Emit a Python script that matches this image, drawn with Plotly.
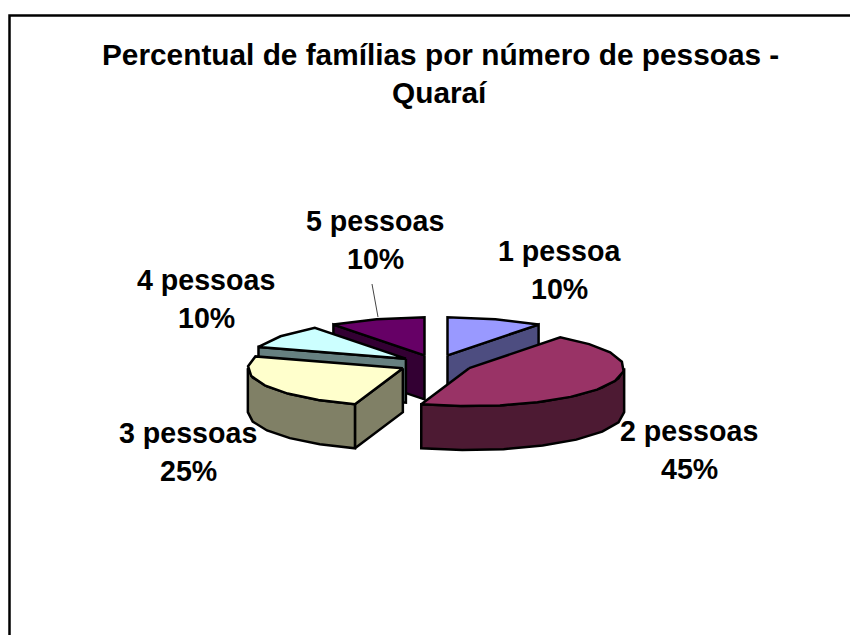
import numpy as np
import plotly.graph_objects as go

categories = ["1 pessoa", "2 pessoas", "3 pessoas", "4 pessoas", "5 pessoas"]
values = [10, 45, 25, 10, 10]
top_colors = ["#9999FF", "#993366", "#FFFFCC", "#CCFFFF", "#660066"]
side_colors = ["#4D4D80", "#4D1A33", "#808066", "#668080", "#330033"]

title_lines = ["Percentual de famílias por número de pessoas -", "Quaraí"]
title_pos = [(440, 54), (440, 92)]
label_pos = [(559, 251), (689, 431), (188, 433), (206, 280), (375, 221)]
LINE_GAP = 38

# pie geometry in page pixels
CX, CY = 436, 364
RX, RY = 155, 38
DEPTH = 44
EXPLODE = 0.24
FONT = "Liberation Sans"

fig = go.Figure()


def add_poly(xs, ys, color):
    fig.add_trace(go.Scatter(
        x=xs, y=ys, mode="lines", fill="toself", fillcolor=color,
        line=dict(color="black", width=2.5), hoverinfo="skip", showlegend=False
    ))


def rim(x0, y0, a0, a1):
    n = max(2, int(abs(a1 - a0) / 14) + 1)
    t = np.radians(np.linspace(a0, a1, n))
    return x0 + RX * np.sin(t), y0 - RY * np.cos(t)


# angles run clockwise from 12 o'clock
edges = np.cumsum([0] + values) / sum(values) * 360
slices = []
for i in range(len(values)):
    a0, a1 = edges[i], edges[i + 1]
    mid = np.radians((a0 + a1) / 2)
    slices.append((i, a0, a1, CX + EXPLODE * RX * np.sin(mid), CY - EXPLODE * RY * np.cos(mid)))

for i, a0, a1, x0, y0 in sorted(slices, key=lambda s: s[4]):
    # radial faces turned towards the viewer
    for a, seen in ((a0, np.sin(np.radians(a0)) < -1e-6), (a1, np.sin(np.radians(a1)) > 1e-6)):
        if seen:
            px, py = rim(x0, y0, a, a)
            px, py = px[0], py[0]
            add_poly([x0, px, px, x0, x0], [y0, py, py + DEPTH, y0 + DEPTH, y0], side_colors[i])
    # outer wall, front half only
    w0, w1 = max(a0, 90), min(a1, 270)
    if w1 > w0:
        rx, ry = rim(x0, y0, w0, w1)
        add_poly(np.r_[rx, rx[::-1], rx[0]], np.r_[ry, ry[::-1] + DEPTH, ry[0]], side_colors[i])
    # top face
    rx, ry = rim(x0, y0, a0, a1)
    add_poly(np.r_[x0, rx, x0], np.r_[y0, ry, y0], top_colors[i])

annotations = []
for line, (x, y) in zip(title_lines, title_pos):
    annotations.append(dict(x=x, y=y, text=f"<b>{line}</b>", showarrow=False,
                            font=dict(family=FONT, size=29.8, color="black")))
for cat, val, (x, y) in zip(categories, values, label_pos):
    label_font = dict(family=FONT, size=28.6, color="black")
    annotations.append(dict(x=x, y=y, text=f"<b>{cat}</b>", showarrow=False, font=label_font))
    annotations.append(dict(x=x, y=y + LINE_GAP, text=f"<b>{val}%</b>", showarrow=False, font=label_font))

fig.update_layout(
    width=850, height=635, margin=dict(l=0, r=0, t=0, b=0),
    paper_bgcolor="white", plot_bgcolor="white", showlegend=False,
    xaxis=dict(range=[0, 850], visible=False, fixedrange=True),
    yaxis=dict(range=[635, 0], visible=False, fixedrange=True),
    annotations=annotations,
    shapes=[
        dict(type="rect", x0=9.5, y0=15.5, x1=900, y1=700, line=dict(color="black", width=2.5)),
        dict(type="line", x0=372, y0=284, x1=378, y1=317, line=dict(color="#444444", width=1)),
    ],
)

fig.write_html("out.html", config={"displayModeBar": False}, post_script="document.body.style.margin='0';")
